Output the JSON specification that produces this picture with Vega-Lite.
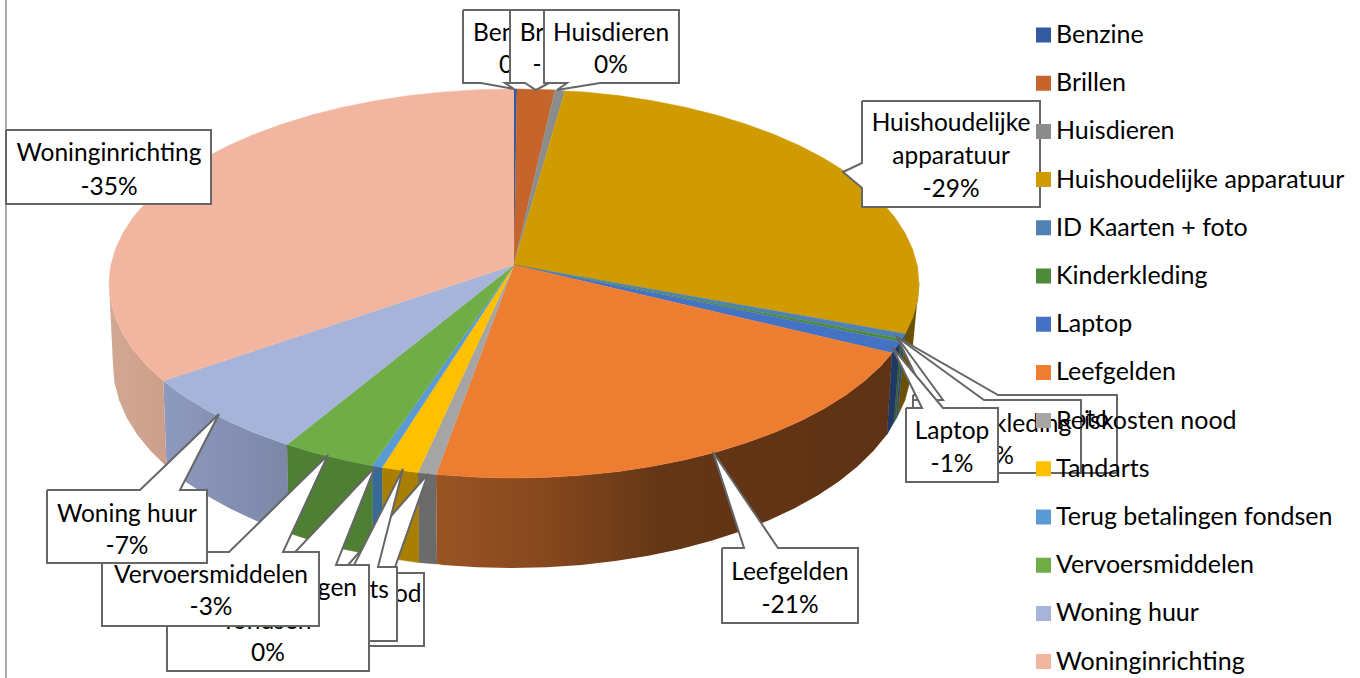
{
"$schema":"https://vega.github.io/schema/vega-lite/v6.json",
"width":1360,"height":678,"padding":0,"autosize":{"type":"none"},
"background":"white",
"config":{"view":{"stroke":null},"font":"Lato"},
"encoding":{
"x":{"field":"x","type":"quantitative","scale":{"domain":[0,1360],"nice":false,"zero":false},"axis":null},
"y":{"field":"y","type":"quantitative","scale":{"domain":[678,0],"nice":false,"zero":false},"axis":null}
},
"datasets":{
"top":[
{"naam":"Benzine","i":0,"x":514,"y":265},{"naam":"Benzine","i":1,"x":514,"y":89},{"naam":"Benzine","i":2,"x":517,"y":89},
{"naam":"Brillen","i":0,"x":514,"y":265},{"naam":"Brillen","i":1,"x":517,"y":89},{"naam":"Brillen","i":2,"x":549.3,"y":89.7},{"naam":"Brillen","i":3,"x":555,"y":90},
{"naam":"Huisdieren","i":0,"x":514,"y":265},{"naam":"Huisdieren","i":1,"x":555,"y":90},{"naam":"Huisdieren","i":2,"x":565,"y":91},
{"naam":"Huishoudelijke apparatuur","i":0,"x":514,"y":265},{"naam":"Huishoudelijke apparatuur","i":1,"x":565,"y":91},{"naam":"Huishoudelijke apparatuur","i":2,"x":584.3,"y":92},{"naam":"Huishoudelijke apparatuur","i":3,"x":618.8,"y":95.6},{"naam":"Huishoudelijke apparatuur","i":4,"x":652.5,"y":100.7},{"naam":"Huishoudelijke apparatuur","i":5,"x":685.2,"y":107.2},{"naam":"Huishoudelijke apparatuur","i":6,"x":716.5,"y":115.1},{"naam":"Huishoudelijke apparatuur","i":7,"x":746.3,"y":124.2},{"naam":"Huishoudelijke apparatuur","i":8,"x":774.3,"y":134.5},{"naam":"Huishoudelijke apparatuur","i":9,"x":800.4,"y":146},{"naam":"Huishoudelijke apparatuur","i":10,"x":824.2,"y":158.5},{"naam":"Huishoudelijke apparatuur","i":11,"x":845.8,"y":171.9},{"naam":"Huishoudelijke apparatuur","i":12,"x":864.7,"y":186.25},{"naam":"Huishoudelijke apparatuur","i":13,"x":881.1,"y":201.3},{"naam":"Huishoudelijke apparatuur","i":14,"x":894.6,"y":217},{"naam":"Huishoudelijke apparatuur","i":15,"x":905.2,"y":233.2},{"naam":"Huishoudelijke apparatuur","i":16,"x":912.8,"y":249.7},{"naam":"Huishoudelijke apparatuur","i":17,"x":917.5,"y":266.5},{"naam":"Huishoudelijke apparatuur","i":18,"x":919,"y":283.5},{"naam":"Huishoudelijke apparatuur","i":19,"x":917.5,"y":300.5},{"naam":"Huishoudelijke apparatuur","i":20,"x":912.8,"y":317.3},{"naam":"Huishoudelijke apparatuur","i":21,"x":905.2,"y":333.8},
{"naam":"ID Kaarten + foto","i":0,"x":514,"y":265},{"naam":"ID Kaarten + foto","i":1,"x":905.2,"y":333.8},{"naam":"ID Kaarten + foto","i":2,"x":902,"y":339},
{"naam":"Kinderkleding","i":0,"x":514,"y":265},{"naam":"Kinderkleding","i":1,"x":902,"y":339},{"naam":"Kinderkleding","i":2,"x":900,"y":342},
{"naam":"Laptop","i":0,"x":514,"y":265},{"naam":"Laptop","i":1,"x":900,"y":342},{"naam":"Laptop","i":2,"x":892,"y":353},
{"naam":"Leefgelden","i":0,"x":514,"y":265},{"naam":"Leefgelden","i":1,"x":892,"y":353},{"naam":"Leefgelden","i":2,"x":881.1,"y":365.7},{"naam":"Leefgelden","i":3,"x":864.7,"y":380.75},{"naam":"Leefgelden","i":4,"x":845.8,"y":395.1},{"naam":"Leefgelden","i":5,"x":824.2,"y":408.5},{"naam":"Leefgelden","i":6,"x":800.4,"y":421},{"naam":"Leefgelden","i":7,"x":774.3,"y":432.5},{"naam":"Leefgelden","i":8,"x":746.3,"y":442.8},{"naam":"Leefgelden","i":9,"x":716.5,"y":451.9},{"naam":"Leefgelden","i":10,"x":685.2,"y":459.8},{"naam":"Leefgelden","i":11,"x":652.5,"y":466.3},{"naam":"Leefgelden","i":12,"x":618.8,"y":471.4},{"naam":"Leefgelden","i":13,"x":584.3,"y":475},{"naam":"Leefgelden","i":14,"x":549.3,"y":477.3},{"naam":"Leefgelden","i":15,"x":514,"y":478},{"naam":"Leefgelden","i":16,"x":478.7,"y":477.3},{"naam":"Leefgelden","i":17,"x":443.7,"y":475},{"naam":"Leefgelden","i":18,"x":436,"y":474.5},
{"naam":"Reiskosten nood","i":0,"x":514,"y":265},{"naam":"Reiskosten nood","i":1,"x":436,"y":474.5},{"naam":"Reiskosten nood","i":2,"x":418,"y":472.5},
{"naam":"Tandarts","i":0,"x":514,"y":265},{"naam":"Tandarts","i":1,"x":418,"y":472.5},{"naam":"Tandarts","i":2,"x":409.2,"y":471.4},{"naam":"Tandarts","i":3,"x":382,"y":467.4},
{"naam":"Terug betalingen fondsen","i":0,"x":514,"y":265},{"naam":"Terug betalingen fondsen","i":1,"x":382,"y":467.4},{"naam":"Terug betalingen fondsen","i":2,"x":375.5,"y":466.3},{"naam":"Terug betalingen fondsen","i":3,"x":372,"y":465.7},
{"naam":"Vervoersmiddelen","i":0,"x":514,"y":265},{"naam":"Vervoersmiddelen","i":1,"x":372,"y":465.7},{"naam":"Vervoersmiddelen","i":2,"x":342.8,"y":459.8},{"naam":"Vervoersmiddelen","i":3,"x":311.5,"y":451.9},{"naam":"Vervoersmiddelen","i":4,"x":287,"y":444.6},
{"naam":"Woning huur","i":0,"x":514,"y":265},{"naam":"Woning huur","i":1,"x":287,"y":444.6},{"naam":"Woning huur","i":2,"x":281.7,"y":442.8},{"naam":"Woning huur","i":3,"x":253.7,"y":432.5},{"naam":"Woning huur","i":4,"x":227.6,"y":421},{"naam":"Woning huur","i":5,"x":203.8,"y":408.5},{"naam":"Woning huur","i":6,"x":182.2,"y":395.1},{"naam":"Woning huur","i":7,"x":163.3,"y":380.75},
{"naam":"Woninginrichting","i":0,"x":514,"y":265},{"naam":"Woninginrichting","i":1,"x":163.3,"y":380.75},{"naam":"Woninginrichting","i":2,"x":146.9,"y":365.7},{"naam":"Woninginrichting","i":3,"x":133.4,"y":350},{"naam":"Woninginrichting","i":4,"x":122.8,"y":333.8},{"naam":"Woninginrichting","i":5,"x":115.2,"y":317.3},{"naam":"Woninginrichting","i":6,"x":110.5,"y":300.5},{"naam":"Woninginrichting","i":7,"x":109,"y":283.5},{"naam":"Woninginrichting","i":8,"x":110.5,"y":266.5},{"naam":"Woninginrichting","i":9,"x":115.2,"y":249.7},{"naam":"Woninginrichting","i":10,"x":122.8,"y":233.2},{"naam":"Woninginrichting","i":11,"x":133.4,"y":217},{"naam":"Woninginrichting","i":12,"x":146.9,"y":201.3},{"naam":"Woninginrichting","i":13,"x":163.3,"y":186.25},{"naam":"Woninginrichting","i":14,"x":182.2,"y":171.9},{"naam":"Woninginrichting","i":15,"x":203.8,"y":158.5},{"naam":"Woninginrichting","i":16,"x":227.6,"y":146},{"naam":"Woninginrichting","i":17,"x":253.7,"y":134.5},{"naam":"Woninginrichting","i":18,"x":281.7,"y":124.2},{"naam":"Woninginrichting","i":19,"x":311.5,"y":115.1},{"naam":"Woninginrichting","i":20,"x":342.8,"y":107.2},{"naam":"Woninginrichting","i":21,"x":375.5,"y":100.7},{"naam":"Woninginrichting","i":22,"x":409.2,"y":95.6},{"naam":"Woninginrichting","i":23,"x":443.7,"y":92},{"naam":"Woninginrichting","i":24,"x":478.7,"y":89.7},{"naam":"Woninginrichting","i":25,"x":514,"y":89}
],
"rim":[
{"naam":"Huishoudelijke apparatuur","i":0,"x":919,"y":283.5},{"naam":"Huishoudelijke apparatuur","i":1,"x":917.5,"y":300.5},{"naam":"Huishoudelijke apparatuur","i":2,"x":912.8,"y":317.3},{"naam":"Huishoudelijke apparatuur","i":3,"x":905.2,"y":333.8},{"naam":"Huishoudelijke apparatuur","i":4,"x":898,"y":415},{"naam":"Huishoudelijke apparatuur","i":5,"x":904.9,"y":400.3},{"naam":"Huishoudelijke apparatuur","i":6,"x":909.5,"y":382.7},{"naam":"Huishoudelijke apparatuur","i":7,"x":911,"y":365},
{"naam":"ID Kaarten + foto","i":0,"x":905.2,"y":333.8},{"naam":"ID Kaarten + foto","i":1,"x":902,"y":339},{"naam":"ID Kaarten + foto","i":2,"x":896,"y":419},{"naam":"ID Kaarten + foto","i":3,"x":898,"y":415},
{"naam":"Kinderkleding","i":0,"x":902,"y":339},{"naam":"Kinderkleding","i":1,"x":900,"y":342},{"naam":"Kinderkleding","i":2,"x":894,"y":422},{"naam":"Kinderkleding","i":3,"x":896,"y":419},
{"naam":"Laptop","i":0,"x":900,"y":342},{"naam":"Laptop","i":1,"x":892,"y":353},{"naam":"Laptop","i":2,"x":887,"y":434.4},{"naam":"Laptop","i":3,"x":894,"y":422},
{"naam":"Leefgelden","i":0,"x":892,"y":353},{"naam":"Leefgelden","i":1,"x":881.1,"y":365.7},{"naam":"Leefgelden","i":2,"x":864.7,"y":380.75},{"naam":"Leefgelden","i":3,"x":845.8,"y":395.1},{"naam":"Leefgelden","i":4,"x":824.2,"y":408.5},{"naam":"Leefgelden","i":5,"x":800.4,"y":421},{"naam":"Leefgelden","i":6,"x":774.3,"y":432.5},{"naam":"Leefgelden","i":7,"x":746.3,"y":442.8},{"naam":"Leefgelden","i":8,"x":716.5,"y":451.9},{"naam":"Leefgelden","i":9,"x":685.2,"y":459.8},{"naam":"Leefgelden","i":10,"x":652.5,"y":466.3},{"naam":"Leefgelden","i":11,"x":618.8,"y":471.4},{"naam":"Leefgelden","i":12,"x":584.3,"y":475},{"naam":"Leefgelden","i":13,"x":549.3,"y":477.3},{"naam":"Leefgelden","i":14,"x":514,"y":478},{"naam":"Leefgelden","i":15,"x":478.7,"y":477.3},{"naam":"Leefgelden","i":16,"x":443.7,"y":475},{"naam":"Leefgelden","i":17,"x":436,"y":474.5},{"naam":"Leefgelden","i":18,"x":437,"y":564},{"naam":"Leefgelden","i":19,"x":442.7,"y":564.9},{"naam":"Leefgelden","i":20,"x":477.2,"y":567.2},{"naam":"Leefgelden","i":21,"x":512,"y":568},{"naam":"Leefgelden","i":22,"x":546.8,"y":567.2},{"naam":"Leefgelden","i":23,"x":581.3,"y":564.9},{"naam":"Leefgelden","i":24,"x":615.3,"y":561.1},{"naam":"Leefgelden","i":25,"x":648.5,"y":555.8},{"naam":"Leefgelden","i":26,"x":680.6,"y":549},{"naam":"Leefgelden","i":27,"x":711.5,"y":540.8},{"naam":"Leefgelden","i":28,"x":740.9,"y":531.3},{"naam":"Leefgelden","i":29,"x":768.5,"y":520.5},{"naam":"Leefgelden","i":30,"x":794.1,"y":508.5},{"naam":"Leefgelden","i":31,"x":817.6,"y":495.5},{"naam":"Leefgelden","i":32,"x":838.8,"y":481.4},{"naam":"Leefgelden","i":33,"x":857.5,"y":466.5},{"naam":"Leefgelden","i":34,"x":873.6,"y":450.8},{"naam":"Leefgelden","i":35,"x":887,"y":434.4},
{"naam":"Reiskosten nood","i":0,"x":436,"y":474.5},{"naam":"Reiskosten nood","i":1,"x":418,"y":472.5},{"naam":"Reiskosten nood","i":2,"x":419,"y":562.5},{"naam":"Reiskosten nood","i":3,"x":437,"y":564},
{"naam":"Tandarts","i":0,"x":418,"y":472.5},{"naam":"Tandarts","i":1,"x":409.2,"y":471.4},{"naam":"Tandarts","i":2,"x":382,"y":467.4},{"naam":"Tandarts","i":3,"x":383,"y":557.3},{"naam":"Tandarts","i":4,"x":408.7,"y":561.1},{"naam":"Tandarts","i":5,"x":419,"y":562.5},
{"naam":"Terug betalingen fondsen","i":0,"x":382,"y":467.4},{"naam":"Terug betalingen fondsen","i":1,"x":375.5,"y":466.3},{"naam":"Terug betalingen fondsen","i":2,"x":372,"y":465.7},{"naam":"Terug betalingen fondsen","i":3,"x":373,"y":555.2},{"naam":"Terug betalingen fondsen","i":4,"x":375.5,"y":555.8},{"naam":"Terug betalingen fondsen","i":5,"x":383,"y":557.3},
{"naam":"Vervoersmiddelen","i":0,"x":372,"y":465.7},{"naam":"Vervoersmiddelen","i":1,"x":342.8,"y":459.8},{"naam":"Vervoersmiddelen","i":2,"x":311.5,"y":451.9},{"naam":"Vervoersmiddelen","i":3,"x":287,"y":444.6},{"naam":"Vervoersmiddelen","i":4,"x":289,"y":533},{"naam":"Vervoersmiddelen","i":5,"x":312.5,"y":540.8},{"naam":"Vervoersmiddelen","i":6,"x":343.4,"y":549},{"naam":"Vervoersmiddelen","i":7,"x":373,"y":555.2},
{"naam":"Woning huur","i":0,"x":287,"y":444.6},{"naam":"Woning huur","i":1,"x":281.7,"y":442.8},{"naam":"Woning huur","i":2,"x":253.7,"y":432.5},{"naam":"Woning huur","i":3,"x":227.6,"y":421},{"naam":"Woning huur","i":4,"x":203.8,"y":408.5},{"naam":"Woning huur","i":5,"x":182.2,"y":395.1},{"naam":"Woning huur","i":6,"x":163.3,"y":380.75},{"naam":"Woning huur","i":7,"x":166.5,"y":466.5},{"naam":"Woning huur","i":8,"x":185.2,"y":481.4},{"naam":"Woning huur","i":9,"x":206.4,"y":495.5},{"naam":"Woning huur","i":10,"x":229.9,"y":508.5},{"naam":"Woning huur","i":11,"x":255.5,"y":520.5},{"naam":"Woning huur","i":12,"x":283.1,"y":531.3},{"naam":"Woning huur","i":13,"x":289,"y":533},
{"naam":"Woninginrichting","i":0,"x":163.3,"y":380.75},{"naam":"Woninginrichting","i":1,"x":146.9,"y":365.7},{"naam":"Woninginrichting","i":2,"x":133.4,"y":350},{"naam":"Woninginrichting","i":3,"x":122.8,"y":333.8},{"naam":"Woninginrichting","i":4,"x":115.2,"y":317.3},{"naam":"Woninginrichting","i":5,"x":110.5,"y":300.5},{"naam":"Woninginrichting","i":6,"x":109,"y":283.5},{"naam":"Woninginrichting","i":7,"x":113,"y":365},{"naam":"Woninginrichting","i":8,"x":114.5,"y":382.7},{"naam":"Woninginrichting","i":9,"x":119.1,"y":400.3},{"naam":"Woninginrichting","i":10,"x":126.6,"y":417.5},{"naam":"Woninginrichting","i":11,"x":137.1,"y":434.4},{"naam":"Woninginrichting","i":12,"x":150.4,"y":450.8},{"naam":"Woninginrichting","i":13,"x":166.5,"y":466.5}
],
"kader":[
{"naam":"Benzine","laag":1,"i":0,"x":463,"y":10},{"naam":"Benzine","laag":1,"i":1,"x":569,"y":10},{"naam":"Benzine","laag":1,"i":2,"x":569,"y":83},{"naam":"Benzine","laag":1,"i":3,"x":505,"y":83},{"naam":"Benzine","laag":1,"i":4,"x":514,"y":89},{"naam":"Benzine","laag":1,"i":5,"x":481,"y":83},{"naam":"Benzine","laag":1,"i":6,"x":463,"y":83},{"naam":"Benzine","laag":1,"i":7,"x":463,"y":10},
{"naam":"Brillen","laag":2,"i":0,"x":510,"y":10},{"naam":"Brillen","laag":2,"i":1,"x":598,"y":10},{"naam":"Brillen","laag":2,"i":2,"x":598,"y":83},{"naam":"Brillen","laag":2,"i":3,"x":549,"y":83},{"naam":"Brillen","laag":2,"i":4,"x":536,"y":90},{"naam":"Brillen","laag":2,"i":5,"x":525,"y":83},{"naam":"Brillen","laag":2,"i":6,"x":510,"y":83},{"naam":"Brillen","laag":2,"i":7,"x":510,"y":10},
{"naam":"Huisdieren","laag":3,"i":0,"x":544,"y":10},{"naam":"Huisdieren","laag":3,"i":1,"x":679,"y":10},{"naam":"Huisdieren","laag":3,"i":2,"x":679,"y":83},{"naam":"Huisdieren","laag":3,"i":3,"x":600,"y":83},{"naam":"Huisdieren","laag":3,"i":4,"x":557,"y":90},{"naam":"Huisdieren","laag":3,"i":5,"x":567,"y":83},{"naam":"Huisdieren","laag":3,"i":6,"x":544,"y":83},{"naam":"Huisdieren","laag":3,"i":7,"x":544,"y":10},
{"naam":"Huishoudelijke apparatuur","laag":1,"i":0,"x":862,"y":101},{"naam":"Huishoudelijke apparatuur","laag":1,"i":1,"x":1040,"y":101},{"naam":"Huishoudelijke apparatuur","laag":1,"i":2,"x":1040,"y":207},{"naam":"Huishoudelijke apparatuur","laag":1,"i":3,"x":862,"y":207},{"naam":"Huishoudelijke apparatuur","laag":1,"i":4,"x":862,"y":188},{"naam":"Huishoudelijke apparatuur","laag":1,"i":5,"x":843,"y":172},{"naam":"Huishoudelijke apparatuur","laag":1,"i":6,"x":862,"y":163},{"naam":"Huishoudelijke apparatuur","laag":1,"i":7,"x":862,"y":101},
{"naam":"ID Kaarten + foto","laag":1,"i":0,"x":913,"y":395},{"naam":"ID Kaarten + foto","laag":1,"i":1,"x":925,"y":395},{"naam":"ID Kaarten + foto","laag":1,"i":2,"x":897,"y":337},{"naam":"ID Kaarten + foto","laag":1,"i":3,"x":998,"y":395},{"naam":"ID Kaarten + foto","laag":1,"i":4,"x":1117,"y":395},{"naam":"ID Kaarten + foto","laag":1,"i":5,"x":1117,"y":473},{"naam":"ID Kaarten + foto","laag":1,"i":6,"x":913,"y":473},{"naam":"ID Kaarten + foto","laag":1,"i":7,"x":913,"y":395},
{"naam":"Kinderkleding","laag":2,"i":0,"x":913,"y":400},{"naam":"Kinderkleding","laag":2,"i":1,"x":943,"y":400},{"naam":"Kinderkleding","laag":2,"i":2,"x":897,"y":337},{"naam":"Kinderkleding","laag":2,"i":3,"x":984,"y":400},{"naam":"Kinderkleding","laag":2,"i":4,"x":1081,"y":400},{"naam":"Kinderkleding","laag":2,"i":5,"x":1081,"y":473},{"naam":"Kinderkleding","laag":2,"i":6,"x":913,"y":473},{"naam":"Kinderkleding","laag":2,"i":7,"x":913,"y":400},
{"naam":"Laptop","laag":3,"i":0,"x":906,"y":408},{"naam":"Laptop","laag":3,"i":1,"x":922,"y":408},{"naam":"Laptop","laag":3,"i":2,"x":892,"y":347},{"naam":"Laptop","laag":3,"i":3,"x":943,"y":408},{"naam":"Laptop","laag":3,"i":4,"x":998,"y":408},{"naam":"Laptop","laag":3,"i":5,"x":998,"y":482},{"naam":"Laptop","laag":3,"i":6,"x":906,"y":482},{"naam":"Laptop","laag":3,"i":7,"x":906,"y":408},
{"naam":"Leefgelden","laag":1,"i":0,"x":722,"y":548},{"naam":"Leefgelden","laag":1,"i":1,"x":744,"y":548},{"naam":"Leefgelden","laag":1,"i":2,"x":713,"y":452},{"naam":"Leefgelden","laag":1,"i":3,"x":778,"y":548},{"naam":"Leefgelden","laag":1,"i":4,"x":858,"y":548},{"naam":"Leefgelden","laag":1,"i":5,"x":858,"y":623},{"naam":"Leefgelden","laag":1,"i":6,"x":722,"y":623},{"naam":"Leefgelden","laag":1,"i":7,"x":722,"y":548},
{"naam":"Reiskosten nood","laag":1,"i":0,"x":240,"y":573},{"naam":"Reiskosten nood","laag":1,"i":1,"x":341,"y":573},{"naam":"Reiskosten nood","laag":1,"i":2,"x":428,"y":474},{"naam":"Reiskosten nood","laag":1,"i":3,"x":393,"y":573},{"naam":"Reiskosten nood","laag":1,"i":4,"x":424,"y":573},{"naam":"Reiskosten nood","laag":1,"i":5,"x":424,"y":646},{"naam":"Reiskosten nood","laag":1,"i":6,"x":240,"y":646},{"naam":"Reiskosten nood","laag":1,"i":7,"x":240,"y":573},
{"naam":"Tandarts","laag":2,"i":0,"x":295,"y":567},{"naam":"Tandarts","laag":2,"i":1,"x":353,"y":567},{"naam":"Tandarts","laag":2,"i":2,"x":403,"y":469},{"naam":"Tandarts","laag":2,"i":3,"x":378,"y":567},{"naam":"Tandarts","laag":2,"i":4,"x":397,"y":567},{"naam":"Tandarts","laag":2,"i":5,"x":397,"y":641},{"naam":"Tandarts","laag":2,"i":6,"x":295,"y":641},{"naam":"Tandarts","laag":2,"i":7,"x":295,"y":567},
{"naam":"Terug betalingen fondsen","laag":3,"i":0,"x":167,"y":565},{"naam":"Terug betalingen fondsen","laag":3,"i":1,"x":283,"y":565},{"naam":"Terug betalingen fondsen","laag":3,"i":2,"x":375,"y":467},{"naam":"Terug betalingen fondsen","laag":3,"i":3,"x":336,"y":565},{"naam":"Terug betalingen fondsen","laag":3,"i":4,"x":369,"y":565},{"naam":"Terug betalingen fondsen","laag":3,"i":5,"x":369,"y":671},{"naam":"Terug betalingen fondsen","laag":3,"i":6,"x":167,"y":671},{"naam":"Terug betalingen fondsen","laag":3,"i":7,"x":167,"y":565},
{"naam":"Vervoersmiddelen","laag":4,"i":0,"x":102,"y":552},{"naam":"Vervoersmiddelen","laag":4,"i":1,"x":229,"y":552},{"naam":"Vervoersmiddelen","laag":4,"i":2,"x":328,"y":455},{"naam":"Vervoersmiddelen","laag":4,"i":3,"x":283,"y":552},{"naam":"Vervoersmiddelen","laag":4,"i":4,"x":319,"y":552},{"naam":"Vervoersmiddelen","laag":4,"i":5,"x":319,"y":626},{"naam":"Vervoersmiddelen","laag":4,"i":6,"x":102,"y":626},{"naam":"Vervoersmiddelen","laag":4,"i":7,"x":102,"y":552},
{"naam":"Woning huur","laag":5,"i":0,"x":47,"y":490},{"naam":"Woning huur","laag":5,"i":1,"x":140,"y":490},{"naam":"Woning huur","laag":5,"i":2,"x":219,"y":414},{"naam":"Woning huur","laag":5,"i":3,"x":180,"y":490},{"naam":"Woning huur","laag":5,"i":4,"x":207,"y":490},{"naam":"Woning huur","laag":5,"i":5,"x":207,"y":563},{"naam":"Woning huur","laag":5,"i":6,"x":47,"y":563},{"naam":"Woning huur","laag":5,"i":7,"x":47,"y":490},
{"naam":"Woninginrichting","laag":1,"i":0,"x":6,"y":130},{"naam":"Woninginrichting","laag":1,"i":1,"x":211,"y":130},{"naam":"Woninginrichting","laag":1,"i":2,"x":211,"y":204},{"naam":"Woninginrichting","laag":1,"i":3,"x":6,"y":204},{"naam":"Woninginrichting","laag":1,"i":4,"x":6,"y":130}
],
"tekst":[
{"laag":1,"x":516,"y":32,"t":"Benzine"},{"laag":1,"x":516,"y":64,"t":"0%"},
{"laag":2,"x":554,"y":32,"t":"Brillen"},{"laag":2,"x":554,"y":64,"t":"-1%"},
{"laag":3,"x":611,"y":32,"t":"Huisdieren"},{"laag":3,"x":611,"y":64,"t":"0%"},
{"laag":1,"x":951,"y":122,"t":"Huishoudelijke"},{"laag":1,"x":951,"y":155,"t":"apparatuur"},{"laag":1,"x":951,"y":188,"t":"-29%"},
{"laag":1,"x":1015,"y":418,"t":"ID Kaarten + foto"},{"laag":1,"x":1015,"y":451,"t":"0%"},
{"laag":2,"x":997,"y":423,"t":"Kinderkleding"},{"laag":2,"x":997,"y":455,"t":"0%"},
{"laag":3,"x":952,"y":430,"t":"Laptop"},{"laag":3,"x":952,"y":463,"t":"-1%"},
{"laag":1,"x":790,"y":571,"t":"Leefgelden"},{"laag":1,"x":790,"y":604,"t":"-21%"},
{"laag":1,"x":333,"y":593,"t":"Reiskosten nood"},{"laag":1,"x":333,"y":626,"t":"0%"},
{"laag":2,"x":343,"y":589,"t":"Tandarts"},{"laag":2,"x":343,"y":622,"t":"-1%"},
{"laag":3,"x":268,"y":587,"t":"Terug betalingen"},{"laag":3,"x":268,"y":620,"t":"fondsen"},{"laag":3,"x":268,"y":652,"t":"0%"},
{"laag":4,"x":211,"y":574,"t":"Vervoersmiddelen"},{"laag":4,"x":211,"y":606,"t":"-3%"},
{"laag":5,"x":127,"y":513,"t":"Woning huur"},{"laag":5,"x":127,"y":545,"t":"-7%"},
{"laag":1,"x":109,"y":152,"t":"Woninginrichting"},{"laag":1,"x":109,"y":186,"t":"-35%"}
]
},
"layer":[
{"data":{"values":[{"x":6,"y":0},{"x":6,"y":678}]},"mark":{"type":"line","color":"#ABABAB","strokeWidth":2}},
{"data":{"name":"rim"},"transform":[{"filter":"datum.naam!='Leefgelden'&&datum.naam!='Woning huur'&&datum.naam!='Woninginrichting'"}],"mark":{"type":"line","strokeWidth":0.6},"encoding":{
"order":{"field":"i"},
"fill":{"field":"naam","type":"nominal","legend":null,"scale":{"domain":["Huishoudelijke apparatuur","ID Kaarten + foto","Kinderkleding","Laptop","Reiskosten nood","Tandarts","Terug betalingen fondsen","Vervoersmiddelen"],"range":["#6B5000","#2C4F70","#3A5C26","#1F3864","#6B6B6B","#A87F00","#386A96","#4F7F33"]}},
"stroke":{"field":"naam","type":"nominal","legend":null,"scale":{"domain":["Huishoudelijke apparatuur","ID Kaarten + foto","Kinderkleding","Laptop","Reiskosten nood","Tandarts","Terug betalingen fondsen","Vervoersmiddelen"],"range":["#6B5000","#2C4F70","#3A5C26","#1F3864","#6B6B6B","#A87F00","#386A96","#4F7F33"]}}
}},
{"data":{"name":"rim"},"transform":[{"filter":"datum.naam=='Leefgelden'"}],"mark":{"type":"line","strokeWidth":0,"fill":{"gradient":"linear","x1":0,"y1":0,"x2":1,"y2":0,"stops":[{"offset":0,"color":"#9A5424"},{"offset":0.25,"color":"#85471D"},{"offset":0.5,"color":"#633616"},{"offset":1,"color":"#5E3214"}]}},"encoding":{"order":{"field":"i"}}},
{"data":{"name":"rim"},"transform":[{"filter":"datum.naam=='Woning huur'"}],"mark":{"type":"line","strokeWidth":0,"fill":{"gradient":"linear","x1":0,"y1":0,"x2":1,"y2":0,"stops":[{"offset":0,"color":"#8D99BE"},{"offset":1,"color":"#7C87A8"}]}},"encoding":{"order":{"field":"i"}}},
{"data":{"name":"rim"},"transform":[{"filter":"datum.naam=='Woninginrichting'"}],"mark":{"type":"line","strokeWidth":0,"fill":{"gradient":"linear","x1":0,"y1":0,"x2":1,"y2":0,"stops":[{"offset":0,"color":"#D2A893"},{"offset":1,"color":"#CC9F8B"}]}},"encoding":{"order":{"field":"i"}}},
{"data":{"name":"top"},"mark":{"type":"line","strokeWidth":0.5},"encoding":{
"order":{"field":"i"},
"stroke":{"field":"naam","type":"nominal","legend":null,"scale":{"domain":["Benzine","Brillen","Huisdieren","Huishoudelijke apparatuur","ID Kaarten + foto","Kinderkleding","Laptop","Leefgelden","Reiskosten nood","Tandarts","Terug betalingen fondsen","Vervoersmiddelen","Woning huur","Woninginrichting"],"range":["#335AA1","#C5652B","#8C8C8C","#D09B00","#4F81B3","#4F8A3A","#4472C4","#ED7D31","#A5A5A5","#FFC000","#5B9BD5","#70AD47","#A5B4D8","#F2B6A0"]}},
"fill":{"field":"naam","type":"nominal","title":null,"scale":{"domain":["Benzine","Brillen","Huisdieren","Huishoudelijke apparatuur","ID Kaarten + foto","Kinderkleding","Laptop","Leefgelden","Reiskosten nood","Tandarts","Terug betalingen fondsen","Vervoersmiddelen","Woning huur","Woninginrichting"],"range":["#335AA1","#C5652B","#8C8C8C","#D09B00","#4F81B3","#4F8A3A","#4472C4","#ED7D31","#A5A5A5","#FFC000","#5B9BD5","#70AD47","#A5B4D8","#F2B6A0"]},
"legend":{"orient":"none","legendX":1031,"legendY":23,"zindex":1,"symbolType":"square","symbolSize":225,"symbolStrokeWidth":0,"labelFont":"Lato","labelFontSize":25,"labelColor":"#000000","labelOffset":0,"labelLimit":400,"rowPadding":23.2,"padding":0,"clipHeight":24,"title":null}}
}},
{"data":{"name":"kader"},"transform":[{"filter":"datum.laag==1"}],"mark":{"type":"line","fill":"white","stroke":"#666666","strokeWidth":2},"encoding":{"order":{"field":"i"},"detail":{"field":"naam"}}},
{"data":{"name":"tekst"},"transform":[{"filter":"datum.laag==1"}],"mark":{"type":"text","fontSize":24.5,"font":"Lato","color":"#000000","baseline":"middle","align":"center","dy":2},"encoding":{"text":{"field":"t"}}},
{"data":{"name":"kader"},"transform":[{"filter":"datum.laag==2"}],"mark":{"type":"line","fill":"white","stroke":"#666666","strokeWidth":2},"encoding":{"order":{"field":"i"},"detail":{"field":"naam"}}},
{"data":{"name":"tekst"},"transform":[{"filter":"datum.laag==2"}],"mark":{"type":"text","fontSize":24.5,"font":"Lato","color":"#000000","baseline":"middle","align":"center","dy":2},"encoding":{"text":{"field":"t"}}},
{"data":{"name":"kader"},"transform":[{"filter":"datum.laag==3"}],"mark":{"type":"line","fill":"white","stroke":"#666666","strokeWidth":2},"encoding":{"order":{"field":"i"},"detail":{"field":"naam"}}},
{"data":{"name":"tekst"},"transform":[{"filter":"datum.laag==3"}],"mark":{"type":"text","fontSize":24.5,"font":"Lato","color":"#000000","baseline":"middle","align":"center","dy":2},"encoding":{"text":{"field":"t"}}},
{"data":{"name":"kader"},"transform":[{"filter":"datum.laag==4"}],"mark":{"type":"line","fill":"white","stroke":"#666666","strokeWidth":2},"encoding":{"order":{"field":"i"},"detail":{"field":"naam"}}},
{"data":{"name":"tekst"},"transform":[{"filter":"datum.laag==4"}],"mark":{"type":"text","fontSize":24.5,"font":"Lato","color":"#000000","baseline":"middle","align":"center","dy":2},"encoding":{"text":{"field":"t"}}},
{"data":{"name":"kader"},"transform":[{"filter":"datum.laag==5"}],"mark":{"type":"line","fill":"white","stroke":"#666666","strokeWidth":2},"encoding":{"order":{"field":"i"},"detail":{"field":"naam"}}},
{"data":{"name":"tekst"},"transform":[{"filter":"datum.laag==5"}],"mark":{"type":"text","fontSize":24.5,"font":"Lato","color":"#000000","baseline":"middle","align":"center","dy":2},"encoding":{"text":{"field":"t"}}}
],
"resolve":{"scale":{"fill":"independent","stroke":"independent"}}
}
